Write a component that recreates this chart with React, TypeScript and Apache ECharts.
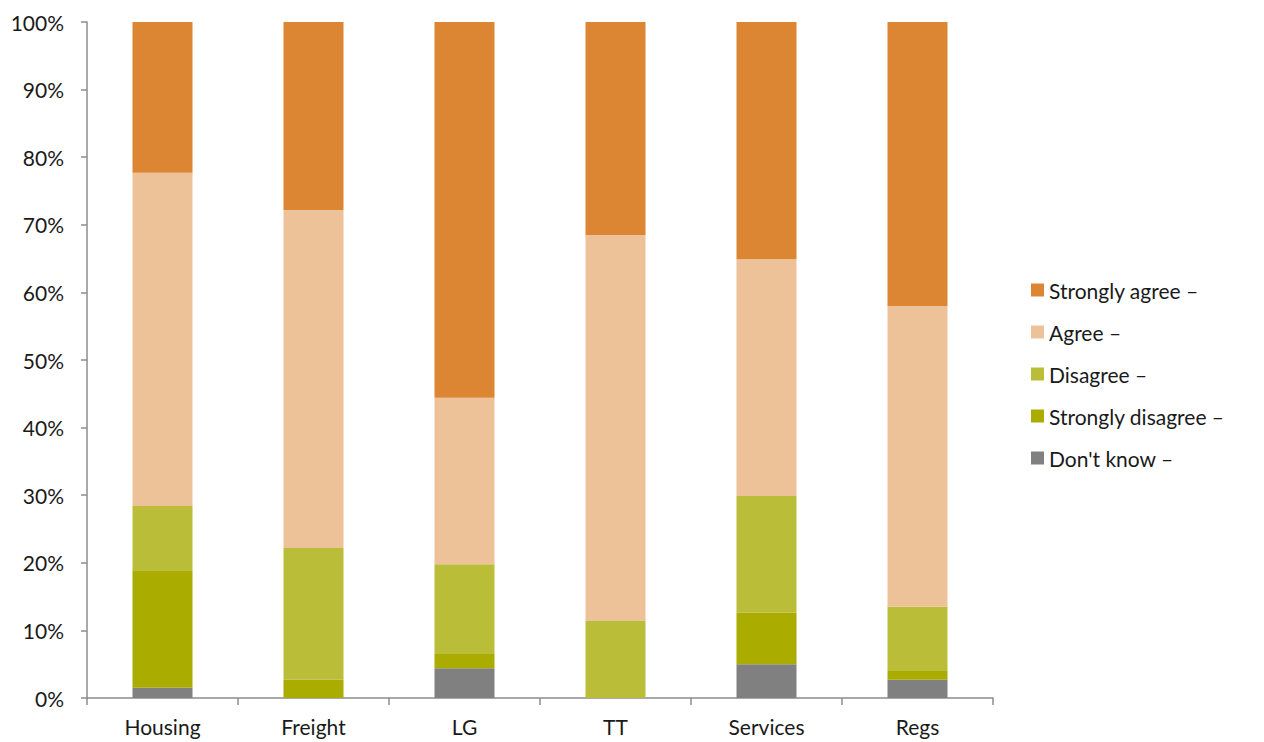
import React, { useEffect, useRef } from "react";
import * as echarts from "echarts";

const categories = ["Housing", "Freight", "LG", "TT", "Services", "Regs"];
const dontKnow = [1.5, 0, 4.4, 0, 5.0, 2.7];
const stronglyDisagree = [17.4, 2.7, 2.1, 0, 7.6, 1.3];
const disagree = [9.5, 19.5, 13.3, 11.4, 17.3, 9.5];
const agree = [49.3, 50.0, 24.6, 57.1, 35.0, 44.5];
const stronglyAgree = [22.3, 27.8, 55.6, 31.5, 35.1, 42.0];
const yTicks = [0, 10, 20, 30, 40, 50, 60, 70, 80, 90, 100];

const seriesNames = ["Don't know –", "Strongly disagree –", "Disagree –", "Agree –", "Strongly agree –"];
const seriesColors = ["#808080", "#AAAD00", "#BABD37", "#EDC299", "#DC8633"];
const seriesValues = [dontKnow, stronglyDisagree, disagree, agree, stronglyAgree];

const FONT = "Lato, 'Noto Sans', sans-serif";

export default function App() {
  const ref = useRef<HTMLDivElement>(null);
  useEffect(() => {
    if (!ref.current) return;
    const chart = echarts.init(ref.current, null, { renderer: "svg" });
    chart.setOption({
      animation: false,
      grid: { left: 87, right: 271, top: 22, bottom: 44, containLabel: false },
      legend: {
        orient: "vertical",
        left: 1031,
        top: 279,
        padding: 0,
        selectedMode: false,
        icon: "rect",
        itemWidth: 13,
        itemHeight: 13,
        itemGap: 20,
        data: [...seriesNames].reverse(),
        textStyle: { fontFamily: FONT, fontSize: 21, color: "#1a1a1a", lineHeight: 22 },
      },
      xAxis: {
        type: "category",
        data: categories,
        axisLine: { lineStyle: { color: "#8c8c8c", width: 1.5 } },
        axisTick: { show: true, length: 7, lineStyle: { color: "#8c8c8c", width: 1.5 } },
        axisLabel: { fontFamily: FONT, fontSize: 21, color: "#1a1a1a", margin: 18 },
      },
      yAxis: {
        type: "value",
        min: yTicks[0],
        max: yTicks[yTicks.length - 1],
        interval: 10,
        splitLine: { show: false },
        axisLine: { show: true, lineStyle: { color: "#8c8c8c", width: 1.5 } },
        axisTick: { show: true, length: 6, lineStyle: { color: "#8c8c8c", width: 1.5 } },
        axisLabel: { fontFamily: FONT, fontSize: 21, color: "#1a1a1a", margin: 23, formatter: "{value}%" },
      },
      series: seriesNames.map((name, i) => ({
        name,
        type: "bar",
        stack: "total",
        barWidth: 60,
        data: seriesValues[i],
        itemStyle: { color: seriesColors[i] },
      })),
    });
    return () => chart.dispose();
  }, []);
  return <div ref={ref} style={{ width: 1264, height: 742, position: "absolute", left: 0, top: 0 }} />;
}
